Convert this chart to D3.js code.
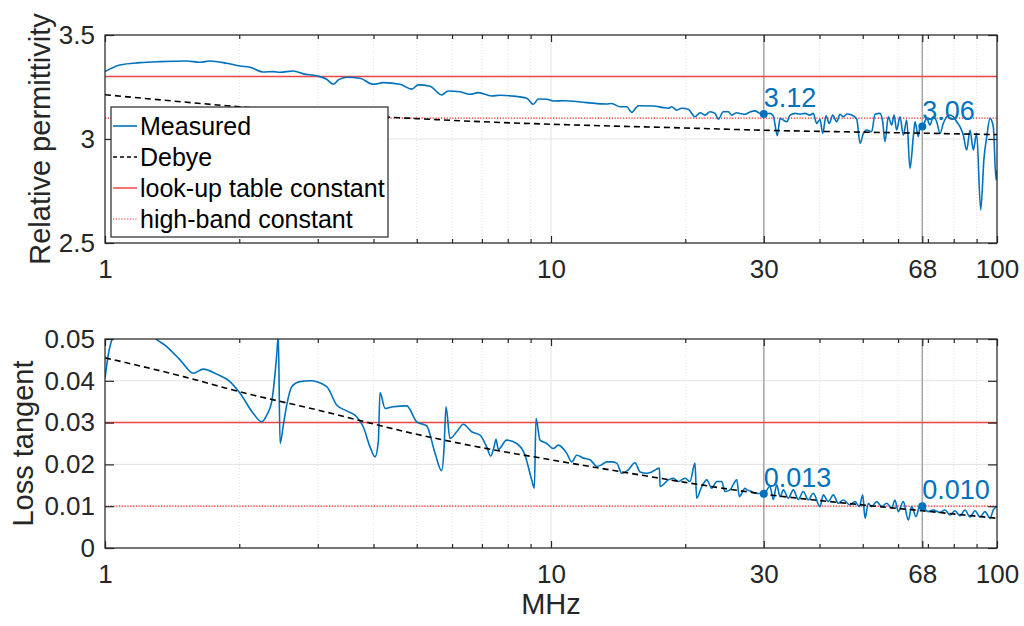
<!DOCTYPE html>
<html><head><meta charset="utf-8">
<script src="https://cdn.jsdelivr.net/npm/d3@7"></script>
<style>
html,body{margin:0;padding:0;background:#fff;}
svg{display:block;font-family:"Liberation Sans",Arial,Helvetica,sans-serif;}
</style></head>
<body>
<svg id="chart" width="1024" height="626"></svg>
<script>
// ---------------- DATA ----------------
const freqTop = [1.00,1.080,1.198,1.328,1.525,1.633,1.720,1.875,2.008,2.114,2.264,2.385,2.469,2.644,2.784,2.983,3.141,3.250,3.336,3.483,3.730,3.996,4.207,4.585,4.872,5.041,5.354,5.686,5.883,6.251,6.581,6.871,7.362,7.686,8.164,8.823,9.127,9.366,9.781,10.12,10.66,12.02,13.33,13.68,14.28,14.78,15.17,15.70,16.96,17.86,18.33,18.65,19.13,19.64,20.32,21.03,21.59,22.15,22.73,23.32,23.72,24.34,24.98,25.42,26.09,26.53,27.23,27.94,28.67,29.42,30.00,30.97,31.51,32.17,32.63,33.19,33.78,34.36,35.26,36.17,37.11,38.08,38.73,39.42,40.10,40.67,41.37,42.07,42.82,43.71,44.46,45.23,46.03,47.23,48.48,49.31,50.16,51.05,52.36,53.27,54.66,55.42,56.09,57.05,58.06,58.76,59.58,60.61,61.65,62.75,63.82,64.92,65.49,66.61,67.20,68.00,69.57,70.76,71.98,73.25,74.51,75.79,77.13,78.45,79.80,81.21,82.60,84.02,85.51,86.99,88.49,90.04,91.92,93.50,94.85,96.46,98.11,99.50,100.0];
const epsMeasured = [3.324,3.356,3.367,3.372,3.375,3.369,3.375,3.364,3.351,3.345,3.322,3.324,3.321,3.327,3.313,3.304,3.287,3.263,3.284,3.297,3.292,3.263,3.271,3.263,3.240,3.260,3.254,3.212,3.231,3.227,3.215,3.223,3.207,3.210,3.207,3.196,3.167,3.192,3.191,3.183,3.184,3.175,3.168,3.171,3.155,3.155,3.128,3.160,3.159,3.151,3.148,3.155,3.139,3.148,3.143,3.107,3.126,3.115,3.131,3.123,3.095,3.131,3.131,3.115,3.126,3.123,3.119,3.130,3.135,3.123,3.120,3.123,3.111,3.016,3.099,3.091,3.083,3.115,3.123,3.119,3.123,3.115,3.123,3.075,3.095,3.027,3.111,3.075,3.115,3.083,3.119,3.107,3.120,3.115,3.095,2.979,3.027,3.043,3.035,3.119,3.123,3.083,2.987,3.107,3.067,3.115,3.043,3.107,3.019,3.091,2.859,3.011,3.083,3.011,3.059,3.060,3.099,3.067,3.107,3.083,3.027,3.075,3.107,3.115,3.107,3.083,3.059,3.019,2.947,3.043,2.947,3.027,2.659,2.907,3.011,3.099,3.059,2.803,2.850];

const freqBot = [1.00,1.017,1.040,1.10,1.20,1.295,1.375,1.473,1.578,1.661,1.780,1.906,2.008,2.150,2.245,2.305,2.365,2.427,2.447,2.469,2.511,2.555,2.623,2.736,2.881,3.141,3.308,3.483,3.667,3.794,3.928,4.030,4.100,4.136,4.245,4.430,4.749,4.999,5.263,5.495,5.686,5.755,5.815,5.936,6.145,6.358,6.640,6.932,7.176,7.326,7.452,7.529,7.619,7.956,8.377,8.744,9.052,9.175,9.256,9.448,9.781,10.12,10.38,10.84,11.13,11.42,11.82,12.23,12.44,12.66,12.99,13.33,13.68,14.04,14.41,14.91,15.43,15.84,16.39,16.82,17.50,17.56,18.33,18.80,19.29,19.97,20.49,21.03,21.21,21.78,22.35,22.93,23.53,24.14,24.55,25.19,26.09,26.44,27.23,27.47,27.94,28.67,30.00,30.97,31.51,32.07,32.63,33.19,34.05,34.94,35.85,36.79,37.75,38.73,40.10,40.79,41.85,42.95,44.07,45.23,46.82,48.04,49.13,50.00,50.59,51.45,52.36,53.74,55.14,56.58,58.06,59.05,60.08,61.65,63.26,64.38,65.83,67.20,68.00,70.15,71.98,74.51,76.45,78.45,80.50,82.60,84.76,86.99,89.25,91.60,93.99,96.46,98.11,100.0];
const tanMeasured = [0.0406,0.0462,0.0502,0.0530,0.0545,0.0502,0.0482,0.0450,0.0418,0.0428,0.0416,0.0398,0.0370,0.0322,0.0302,0.0318,0.0350,0.0462,0.0508,0.0250,0.0294,0.0342,0.0386,0.0398,0.0400,0.0386,0.0342,0.0328,0.0314,0.0290,0.0242,0.0218,0.0254,0.0372,0.0334,0.0338,0.0340,0.0302,0.0292,0.0227,0.0185,0.0235,0.0338,0.0262,0.0278,0.0296,0.0278,0.0270,0.0242,0.0220,0.0242,0.0260,0.0236,0.0258,0.0250,0.0222,0.0163,0.0143,0.0310,0.0258,0.0250,0.0238,0.0246,0.0227,0.0206,0.0222,0.0215,0.0211,0.0203,0.0195,0.0199,0.0206,0.0206,0.0203,0.0179,0.0187,0.0204,0.0182,0.0179,0.0182,0.0191,0.0147,0.0163,0.0167,0.0159,0.0167,0.0159,0.0203,0.0119,0.0147,0.0163,0.0143,0.0159,0.0159,0.0135,0.0139,0.0163,0.0123,0.0143,0.0139,0.0137,0.0131,0.0130,0.0147,0.0116,0.0151,0.0123,0.0139,0.0119,0.0139,0.0116,0.0135,0.0115,0.0131,0.0099,0.0127,0.0111,0.0127,0.0107,0.0115,0.0103,0.0111,0.0099,0.0127,0.0071,0.0107,0.0099,0.0111,0.0099,0.0107,0.0095,0.0115,0.0087,0.0111,0.0067,0.0099,0.0075,0.0103,0.0100,0.0087,0.0091,0.0085,0.0091,0.0079,0.0089,0.0077,0.0091,0.0074,0.0089,0.0074,0.0087,0.0071,0.0091,0.0099];

const freqDebye = [1,1.5,2,3,5,7,10,15,20,30,50,68,100];
const epsDebye  = [3.213,3.178,3.155,3.125,3.098,3.083,3.071,3.060,3.053,3.042,3.033,3.028,3.021];
const tanDebye  = [0.0455,0.0410,0.0374,0.0330,0.0272,0.0240,0.0211,0.0179,0.0157,0.0129,0.0103,0.0089,0.0071];

const epsLookup = 3.3, epsHighBand = 3.1;
const tanLookup = 0.03, tanHighBand = 0.01;

const xTickValues = [1,10,30,68,100];
const xMinorTicks = [2,3,4,5,6,7,8,9,20,40,50,60,70,80,90];
const markerFreqs = [30,68];
const epsMarkerVals = [3.12,3.06], epsMarkerLabels = ["3.12","3.06"];
const tanMarkerVals = [0.013,0.010], tanMarkerLabels = ["0.013","0.010"];
const epsTicks = [2.5,3,3.5];
const tanTicks = [0,0.01,0.02,0.03,0.04,0.05];
const legendLabels = ["Measured","Debye","look-up table constant","high-band constant"];

// ---------------- DRAW ----------------
const svg = d3.select("#chart");
const AX = "#262626", BLUE = "#0072BD", RED = "#f04545";
const x = d3.scaleLog().domain([1,100]).range([105,997]);

function panel(id, yDomain, yRange, ticks, tickFmt, meas, freqM, deb, lookup, highband, mVals, mLabels, ylabel, ylabelX){
  const y = d3.scaleLinear().domain(yDomain).range(yRange);
  const top = yRange[1], bot = yRange[0], left = x.range()[0], right = x.range()[1];
  const g = svg.append("g");
  g.append("rect").attr("x",left).attr("y",top).attr("width",right-left).attr("height",bot-top).attr("fill","#fff");
  g.selectAll(".mg").data(xMinorTicks).enter().append("line")
    .attr("x1",d=>x(d)).attr("x2",d=>x(d)).attr("y1",top).attr("y2",bot)
    .attr("stroke","#d9d9d9").attr("stroke-width",0.8).attr("stroke-dasharray","1,2");
  g.selectAll(".xg").data(xTickValues).enter().append("line")
    .attr("x1",d=>x(d)).attr("x2",d=>x(d)).attr("y1",top).attr("y2",bot)
    .attr("stroke","#e3e3e3").attr("stroke-width",1);
  g.selectAll(".yg").data(ticks).enter().append("line")
    .attr("x1",left).attr("x2",right).attr("y1",d=>y(d)).attr("y2",d=>y(d))
    .attr("stroke","#e3e3e3").attr("stroke-width",1);
  g.selectAll(".vl").data(markerFreqs).enter().append("line")
    .attr("x1",d=>x(d)).attr("x2",d=>x(d)).attr("y1",top).attr("y2",bot)
    .attr("stroke","#a6a6a6").attr("stroke-width",1.5);
  svg.append("clipPath").attr("id","clip"+id).append("rect")
    .attr("x",left).attr("y",top).attr("width",right-left).attr("height",bot-top);
  const dg = g.append("g").attr("clip-path","url(#clip"+id+")");
  const line = d3.line().x(d=>x(d[0])).y(d=>y(d[1])).curve(d3.curveMonotoneX);
  dg.append("line").attr("x1",left).attr("x2",right).attr("y1",y(lookup)).attr("y2",y(lookup))
    .attr("stroke",RED).attr("stroke-width",1.5);
  dg.append("line").attr("x1",left).attr("x2",right).attr("y1",y(highband)).attr("y2",y(highband))
    .attr("stroke","#ff2020").attr("stroke-width",1.2).attr("stroke-dasharray","1.2,1.6");
  dg.append("path").datum(freqM.map((f,i)=>[f,meas[i]])).attr("d",line)
    .attr("fill","none").attr("stroke",BLUE).attr("stroke-width",1.6).attr("stroke-linejoin","round");
  dg.append("path").datum(freqDebye.map((f,i)=>[f,deb[i]])).attr("d",line)
    .attr("fill","none").attr("stroke","#000").attr("stroke-width",1.6).attr("stroke-dasharray","6,4");
  markerFreqs.forEach((f,i)=>{
    g.append("circle").attr("cx",x(f)).attr("cy",y(mVals[i])).attr("r",4).attr("fill",BLUE);
    g.append("text").attr("x",x(f)).attr("y",y(mVals[i])-7).text(mLabels[i])
      .attr("fill",BLUE).attr("font-size",27);
  });
  g.append("g").attr("transform",`translate(0,${bot})`)
    .call(d3.axisBottom(x).tickValues(xTickValues).tickSizeInner(-7).tickSizeOuter(0).tickPadding(17).tickFormat(d3.format("d")));
  g.append("g").attr("transform",`translate(0,${bot})`)
    .call(d3.axisBottom(x).tickValues(xMinorTicks).tickSizeInner(-4).tickSizeOuter(0).tickFormat(""));
  g.append("g").attr("transform",`translate(0,${top})`)
    .call(d3.axisTop(x).tickValues(xTickValues).tickSizeInner(-7).tickSizeOuter(0).tickFormat(""));
  g.append("g").attr("transform",`translate(0,${top})`)
    .call(d3.axisTop(x).tickValues(xMinorTicks).tickSizeInner(-4).tickSizeOuter(0).tickFormat(""));
  g.append("g").attr("transform",`translate(${left},0)`)
    .call(d3.axisLeft(y).tickValues(ticks).tickSizeInner(-9).tickSizeOuter(0).tickPadding(10).tickFormat(tickFmt));
  g.append("g").attr("transform",`translate(${right},0)`)
    .call(d3.axisRight(y).tickValues(ticks).tickSizeInner(-9).tickSizeOuter(0).tickFormat(""));
  g.selectAll(".domain").remove();
  g.selectAll(".tick line").attr("stroke",AX).attr("stroke-width",1.2);
  g.selectAll(".tick text").attr("fill",AX).attr("font-size",26).attr("font-family","'Liberation Sans',Arial,sans-serif");
  g.append("rect").attr("x",left).attr("y",top).attr("width",right-left).attr("height",bot-top)
    .attr("fill","none").attr("stroke",AX).attr("stroke-width",1.2);
  g.append("text").attr("transform",`translate(${ylabelX},${(top+bot)/2}) rotate(-90)`)
    .attr("text-anchor","middle").attr("font-size",29).attr("fill",AX).text(ylabel);
  return g;
}

panel("t",[2.5,3.5],[243,35],epsTicks,d3.format("~g"),epsMeasured,freqTop,epsDebye,epsLookup,epsHighBand,epsMarkerVals,epsMarkerLabels,"Relative permittivity",50);
panel("b",[0,0.05],[548,339],tanTicks,d=>d===0?"0":d3.format(".2f")(d),tanMeasured,freqBot,tanDebye,tanLookup,tanHighBand,tanMarkerVals,tanMarkerLabels,"Loss tangent",33);

svg.append("text").attr("x",551).attr("y",614).attr("text-anchor","middle")
  .attr("font-size",29).attr("fill",AX).text("MHz");

const lg = svg.append("g");
lg.append("rect").attr("x",111).attr("y",107).attr("width",277).attr("height",130)
  .attr("fill","#fff").attr("stroke",AX).attr("stroke-width",1.2);
const legStyles = [
  {stroke:BLUE, dash:null, w:1.6},
  {stroke:"#000", dash:"4,3", w:1.6},
  {stroke:RED, dash:null, w:1.5},
  {stroke:"#ff2020", dash:"1.2,1.6", w:1.2}
];
legendLabels.forEach((lab,i)=>{
  const cy = 126 + i*31;
  const s = legStyles[i];
  const l = lg.append("line").attr("x1",113).attr("x2",137).attr("y1",cy).attr("y2",cy)
    .attr("stroke",s.stroke).attr("stroke-width",s.w);
  if(s.dash) l.attr("stroke-dasharray",s.dash);
  lg.append("text").attr("x",140).attr("y",cy).attr("dy","0.35em").attr("font-size",25).attr("fill","#000").text(lab);
});
</script>
</body></html>
